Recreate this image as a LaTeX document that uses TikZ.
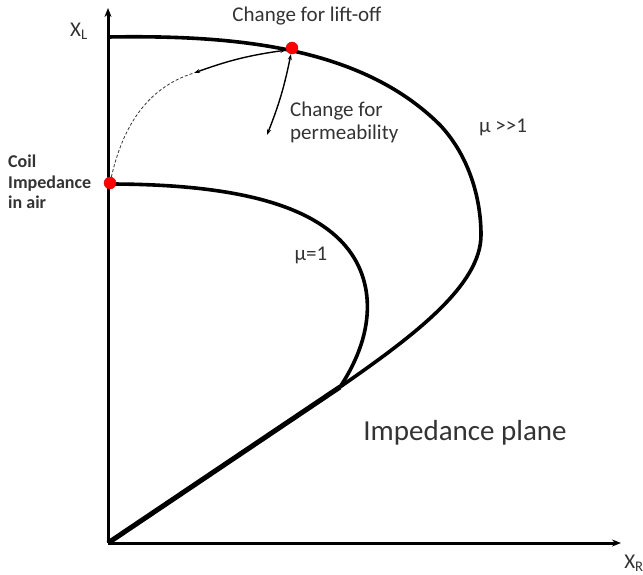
\documentclass[tikz,border=0pt]{standalone}
\usepackage{fontspec}
\setmainfont{Carlito}
\usetikzlibrary{arrows.meta}

\begin{document}
\begin{tikzpicture}[
        x=1pt, y=-1pt,
        every node/.style={font=\fontsize{21}{23}\selectfont, inner sep=0pt, text=black!80},
        axisLine/.style={-{Stealth[length=9pt,width=7pt]}, line width=3pt},
        curveLine/.style={line width=3.6pt},
        moveArrow/.style={{Stealth[length=6pt,width=4pt]}-{Stealth[length=6pt,width=4pt]}, line width=1.4pt},
        airPath/.style={dashed, dash pattern=on 3pt off 2pt, line width=0.8pt, black!80},
        redDot/.style={circle, fill=red, draw=red!80!black, line width=0.4pt, minimum size=12pt}
    ]
        \useasboundingbox (0,0) rectangle (643,575);

        % Axes
        \coordinate (O) at (108,543);
        \coordinate (xTip) at (621,543);
        \coordinate (yTip) at (108,8);
        \draw[axisLine] (O) -- (xTip);
        \draw[axisLine] (O) -- (yTip);
        \node (xr) at (634,563) {X\textsubscript{R}};
        \node (xl) at (79,31) {X\textsubscript{L}};

        % Common straight part near the origin
        \coordinate (Join) at (340,387);
        \draw[curveLine, line width=5pt] (O) -- (Join);

        % mu >> 1
        \draw[curveLine] (108,37) .. controls (230,35) and (360,45) .. (440,125)
            .. controls (470,157) and (481,200) .. (481,235)
            .. controls (481,285) and (415,335) .. (Join);
        % mu = 1
        \draw[curveLine] (108,184) .. controls (220,184) and (300,200) .. (340,240)
            .. controls (375,275) and (378,330) .. (Join);

        % Lift-off path, dashed
        \node[redDot] (air) at (110,183) {};
        \node[redDot] (steel) at (292,48) {};
        \coordinate (liftEnd) at (194,73);
        \coordinate (permEnd) at (267,135);
        \draw[airPath] (air) .. controls (122,130) and (145,88) .. (liftEnd);
        \draw[moveArrow] (steel.200) to[bend right=6] (liftEnd);
        \draw[moveArrow] (steel.260) to[bend left=5] (permEnd);

        % Labels
        \node (lift) at (307,16) {Change for lift-off};
        \node[align=left, anchor=north west] (perm) at (290,102) {Change for\\permeability};
        \node[align=left, anchor=north west, font=\fontsize{18}{20.5}\selectfont\bfseries] (coil) at (8,155) {Coil\\Impedance\\in air};
        \node (muBig) at (503,127) {μ >{}>1};
        \node (muOne) at (311,255) {μ=1};
        \node[font=\fontsize{29}{33}\selectfont] (plane) at (465,433) {Impedance plane};

    \end{tikzpicture}
\end{document}
